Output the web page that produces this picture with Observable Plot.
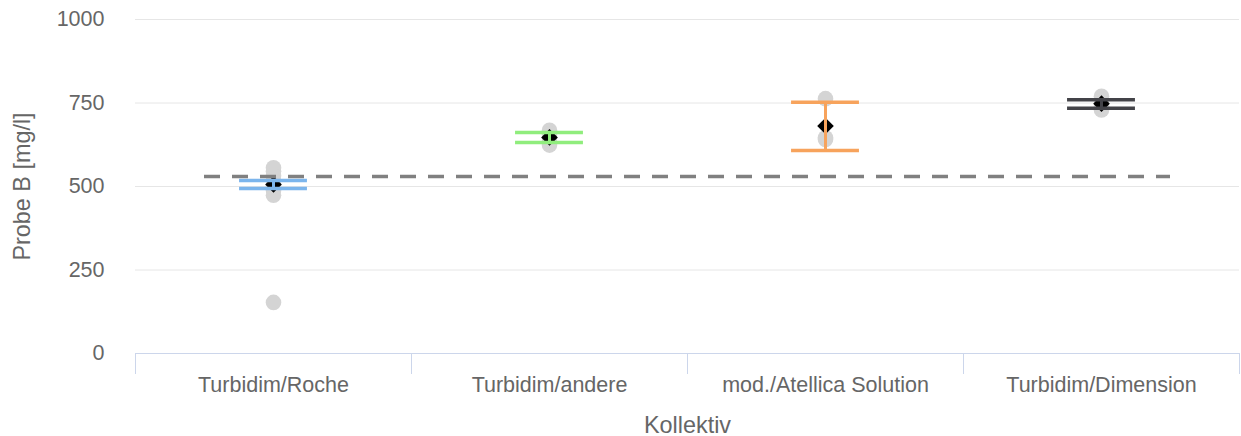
<!DOCTYPE html>
<html>
<head>
<meta charset="utf-8">
<script src="https://cdn.jsdelivr.net/npm/d3@7"></script>
<script src="https://cdn.jsdelivr.net/npm/@observablehq/plot@0.6"></script>
<style>
  html, body { margin: 0; padding: 0; background: #ffffff; }
  #chart { width: 1241px; height: 436px; }
</style>
</head>
<body>
<div id="chart"></div>
<script>
// ---- data ----
const categories = ["Turbidim/Roche", "Turbidim/andere", "mod./Atellica Solution", "Turbidim/Dimension"];
const seriesColors = ["#7cb5ec", "#90ed7d", "#f7a35c", "#434348"];
const means = [506, 647, 681, 748];
const lows  = [494, 632, 608, 734];
const highs = [518, 662, 752, 760];
const valuesRoche     = [556, 546, 532, 517, 502, 488, 474, 153];
const valuesAndere    = [668, 656, 645, 634, 624];
const valuesAtellica  = [763, 646, 641];
const valuesDimension = [770, 760, 750, 740, 729];
const targetValue = 530;
const yTicks = [0, 250, 500, 750, 1000];
const yLabel = "Probe B [mg/l]";
const xLabel = "Kollektiv";

// ---- derived tables ----
const allValues = [valuesRoche, valuesAndere, valuesAtellica, valuesDimension];
const points = allValues.flatMap((vals, i) => vals.map(v => ({i, x: i + 0.5, y: v})));
const stats = categories.map((c, i) => ({
  i, x: i + 0.5, mean: means[i], low: lows[i], high: highs[i], color: seriesColors[i]
}));
const caps = stats.flatMap(s => [{...s, y: s.low}, {...s, y: s.high}]);
const capHalf = 0.123;        // half cap width in band units (style)
const dashHalf = 0.25;        // reference line overhang in band units (style)
const n = categories.length;
const centers = categories.map((c, i) => i + 0.5);
const dividers = d3.range(n + 1);

const chart = Plot.plot({
  width: 1241,
  height: 436,
  marginLeft: 135,
  marginRight: 2,
  marginTop: 19,
  marginBottom: 83,
  style: {fontFamily: "'Liberation Sans', Arial, Helvetica, sans-serif", background: "#ffffff", overflow: "visible"},
  x: {domain: [0, n]},
  y: {domain: [0, 1000]},
  marks: [
    Plot.ruleY(yTicks.filter(d => d > 0), {stroke: "#e6e6e6", strokeWidth: 1}),
    Plot.ruleY([0], {stroke: "#ccd6eb", strokeWidth: 1}),
    Plot.axisY({ticks: yTicks, tickSize: 0, tickPadding: 31, tickFormat: d => String(d),
      fontSize: 21.5, color: "#666666", label: null}),
    Plot.axisX({ticks: dividers, tickSize: 21, tickFormat: () => "", stroke: "#ccd6eb", label: null}),
    Plot.axisX({ticks: centers, tickSize: 0, tickPadding: 23, tickFormat: d => categories[Math.floor(d)],
      fontSize: 21.5, color: "#666666", label: null}),
    Plot.dot(points, {x: "x", y: "y", r: 7.8, fill: "#d4d4d4", stroke: "none"}),
    Plot.dot(stats, {x: "x", y: "mean", symbol: "diamond2", r: 7.5, fill: "#000000", stroke: "none"}),
    Plot.ruleX(stats, {x: "x", y1: "low", y2: "high", stroke: "color", strokeWidth: 3}),
    Plot.ruleY(caps, {y: "y", x1: d => d.x - capHalf, x2: d => d.x + capHalf, stroke: "color", strokeWidth: 3.5}),
    Plot.ruleY([targetValue], {x1: centers[0] - dashHalf, x2: centers[n - 1] + dashHalf,
      stroke: "#808080", strokeWidth: 3.5, strokeDasharray: "16,12"}),
    Plot.text([yLabel], {frameAnchor: "left", textAnchor: "middle", rotate: -90, dx: -113, fontSize: 23.4, fill: "#666666"}),
    Plot.text([xLabel], {frameAnchor: "bottom", lineAnchor: "top", dy: 63, fontSize: 23.4, fill: "#666666"})
  ]
});
document.getElementById("chart").appendChild(chart);
</script>
</body>
</html>
